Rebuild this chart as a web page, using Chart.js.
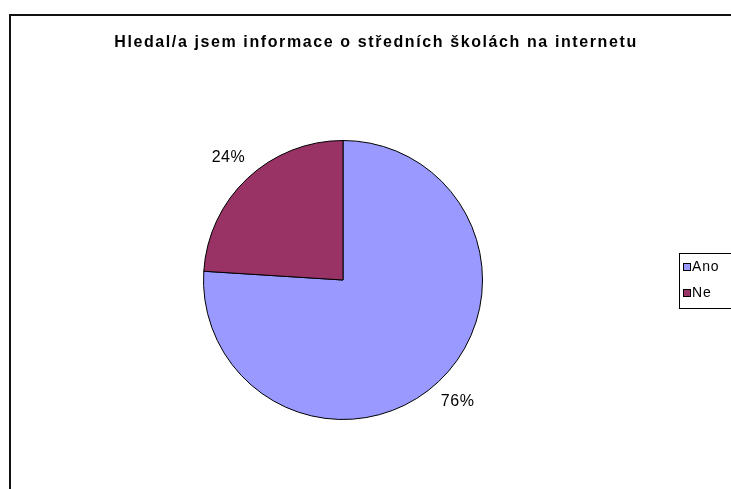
<!DOCTYPE html>
<html>
<head>
<meta charset="utf-8">
<script src="https://cdn.jsdelivr.net/npm/chart.js@4"></script>
<style>
    body { margin: 0; background: #fff; }
    canvas { display: block; }
</style>
</head>
<body>
<canvas id="grafico" width="731" height="489"></canvas>
<script>
var titulo = "Hledal/a jsem informace o středních školách na internetu";
var categorias = ["Ano", "Ne"];
var valores = [76, 24];
var cores = ["#9999FF", "#993366"];
var rotulos = ["76%", "24%"];

// moldura, titulo e legenda desenhados a mao
const molduraPlugin = {
    id: 'moldura',
    afterDraw: function (chart) {
        const ctx = chart.ctx;
        ctx.save();

        ctx.strokeStyle = '#111';
        ctx.lineWidth = 2;
        ctx.strokeRect(10, 15, 760, 520);

        ctx.fillStyle = '#000';
        ctx.font = 'bold 16px "Liberation Sans", Arial, sans-serif';
        ctx.letterSpacing = '1.6px';
        ctx.textAlign = 'center';
        ctx.textBaseline = 'middle';
        ctx.fillText(titulo, 376, 43);

        // rotulos de porcentagem fora das fatias
        const meta = chart.getDatasetMeta(0);
        ctx.letterSpacing = '0.5px';
        ctx.font = '16px "Liberation Sans", Arial, sans-serif';
        meta.data.forEach(function (arco, i) {
            const p = arco.getProps(['x', 'y', 'startAngle', 'endAngle', 'outerRadius'], true);
            const meio = (p.startAngle + p.endAngle) / 2;
            const r = p.outerRadius * 1.2;
            ctx.fillText(rotulos[i], p.x + Math.cos(meio) * r, p.y + Math.sin(meio) * r);
        });

        // legenda
        ctx.lineWidth = 1;
        ctx.strokeStyle = '#000';
        ctx.strokeRect(679.5, 253.5, 80, 55);
        ctx.font = '14px "Liberation Sans", Arial, sans-serif';
        ctx.letterSpacing = '0.8px';
        ctx.textAlign = 'left';
        categorias.forEach(function (cat, i) {
            const y = 267 + i * 26;
            ctx.fillStyle = cores[i];
            ctx.fillRect(683, y - 4, 7, 7);
            ctx.strokeRect(683.5, y - 3.5, 7, 7);
            ctx.fillStyle = '#000';
            ctx.fillText(cat, 692, y);
        });

        ctx.restore();
    }
};

const ctx = document.getElementById('grafico').getContext('2d');
const grafico = new Chart(ctx, {
    type: 'pie',
    data: {
        labels: categorias,
        datasets: [{
            data: valores,
            backgroundColor: cores,
            borderColor: '#000',
            borderWidth: 1
        }]
    },
    options: {
        responsive: false,
        animation: false,
        layout: {
            padding: { left: 203, right: 248, top: 140, bottom: 69 }
        },
        plugins: {
            legend: { display: false },
            tooltip: { enabled: false },
            title: { display: false }
        }
    },
    plugins: [molduraPlugin]
});
</script>
</body>
</html>
